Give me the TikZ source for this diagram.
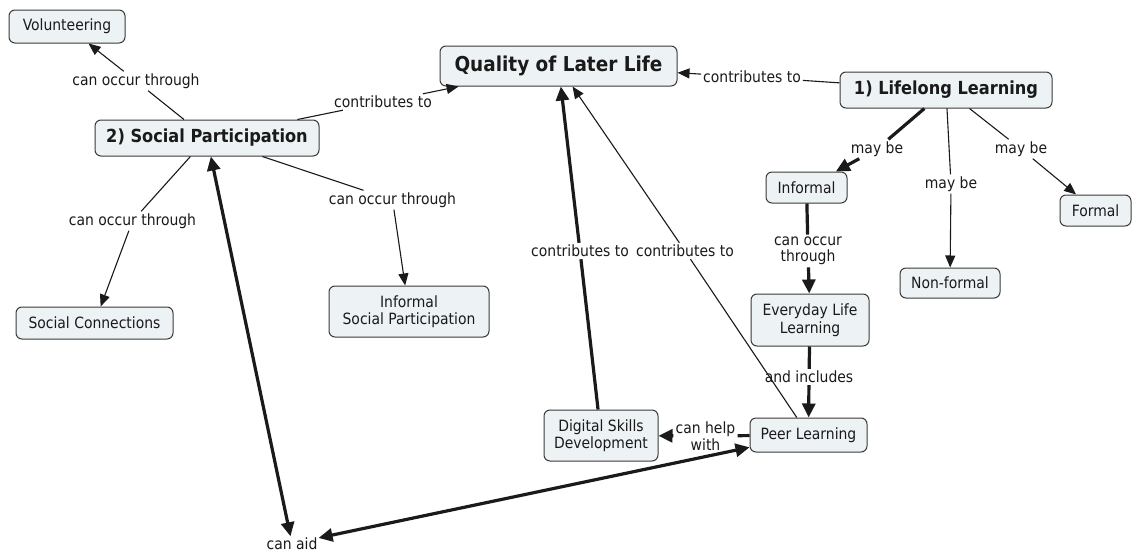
\documentclass[tikz,border=0pt]{standalone}
\usepackage{fontspec}
\setmainfont{DejaVu Sans Condensed}
\usetikzlibrary{arrows.meta}
\definecolor{boxfill}{HTML}{EDF2F4}
\definecolor{boxdraw}{HTML}{3A3A3A}
\definecolor{ink}{HTML}{1A1A1A}
\begin{document}
\begin{tikzpicture}[x=1pt,y=-1pt,
  box/.style={draw=boxdraw, fill=boxfill, rounded corners=6pt, line width=1pt, text=ink,
    font=\fontsize{15.5}{17.5}\selectfont, align=center, inner sep=0pt},
  bigbox/.style={box, font=\fontsize{20.5}{22}\selectfont\bfseries},
  midbox/.style={box, font=\fontsize{18}{20}\selectfont\bfseries},
  lab/.style={text=ink, font=\fontsize{15.5}{16.5}\selectfont, align=center, inner sep=2pt},
  tline/.style={draw=ink, line width=1.1pt},
  kline/.style={draw=ink, line width=3.2pt},
  tarr/.style={tline, -{Triangle[length=12pt,width=10pt]}},
  karr/.style={kline, -{Triangle[length=14pt,width=13pt]}},
  karrb/.style={kline, {Triangle[length=14pt,width=13pt]}-{Triangle[length=14pt,width=13pt]}},
]
\useasboundingbox[fill=white] (0,0) rectangle (1132,554);

% concept nodes
\node[box, minimum width=116pt, minimum height=33pt] (vol) at (67,26.5) {Volunteering};
\node[bigbox, minimum width=237pt, minimum height=40pt] (qll) at (558.5,66) {Quality of Later Life};
\node[midbox, minimum width=212pt, minimum height=36pt] (ll) at (946,90) {1) Lifelong Learning};
\node[midbox, minimum width=224pt, minimum height=36pt] (sp) at (207,138) {2) Social Participation};
\node[box, minimum width=81pt, minimum height=31pt] (inf) at (806.5,187.5) {Informal};
\node[box, minimum width=71pt, minimum height=31pt] (form) at (1095.5,210.5) {Formal};
\node[box, minimum width=100pt, minimum height=30pt] (nonf) at (950,283) {Non-formal};
\node[box, minimum width=118pt, minimum height=52pt] (edl) at (810,320) {Everyday Life\\Learning};
\node[box, minimum width=157pt, minimum height=32pt] (sc) at (94.5,323) {Social Connections};
\node[box, minimum width=160pt, minimum height=51pt] (isp) at (409,311.5) {Informal\\Social Participation};
\node[box, minimum width=114pt, minimum height=51pt] (dsd) at (601,435.5) {Digital Skills\\Development};
\node[box, minimum width=117pt, minimum height=34pt] (peer) at (808.5,435) {Peer Learning};

% linking phrases
\node[lab] (l1) at (136,81) {can occur through};
\node[lab] (l2) at (383,102) {contributes to};
\node[lab] (l3) at (752,77) {contributes to};
\node[lab] (l4) at (877,149) {may be};
\node[lab] (l5) at (951,184) {may be};
\node[lab] (l6) at (1021,149) {may be};
\node[lab] (l7) at (808,251) {can occur\\through};
\node[lab] (l8) at (580,251) {contributes to};
\node[lab] (l9) at (685,251) {contributes to};
\node[lab] (l10) at (809,377) {and includes};
\node[lab] (l11) at (705.5,436) {can help\\with};
\node[lab, inner sep=1pt] (l12) at (292,543.5) {can aid};
\node[lab] (l13) at (132.5,221) {can occur through};
\node[lab] (l14) at (392.5,200) {can occur through};

% connectors
\draw[tline] (sp) -- (l1);  \draw[tarr] (l1) -- (vol);
\draw[tline] (sp) -- (l2);  \draw[tarr] (l2) -- (qll);
\draw[tline] (ll) -- (l3);  \draw[tarr] (l3) -- (qll);
\draw[kline] (ll) -- (l4);  \draw[karr] (l4) -- (inf);
\draw[tline] (ll) -- (l5);  \draw[tarr] (l5) -- (nonf);
\draw[tline] (ll) -- (l6);  \draw[tarr] (l6) -- (form);
\draw[kline] (inf) -- (l7); \draw[karr] (l7) -- (edl);
\draw[kline] (edl) -- (l10); \draw[karr] (l10) -- (peer);
\draw[kline] (peer) -- (l11); \draw[karr] (l11) -- (dsd);
\draw[kline] (dsd) -- (l8); \draw[karr] (l8) -- (qll);
\draw[tline] (peer) -- (l9); \draw[tarr] (l9) -- (qll);
\draw[karrb] (sp) -- (l12);
\draw[karrb] (l12) -- (peer);
\draw[tline] (sp) -- (l13); \draw[tarr] (l13) -- (sc);
\draw[tline] (sp) -- (l14); \draw[tarr] (l14) -- (isp);
\end{tikzpicture}
\end{document}
